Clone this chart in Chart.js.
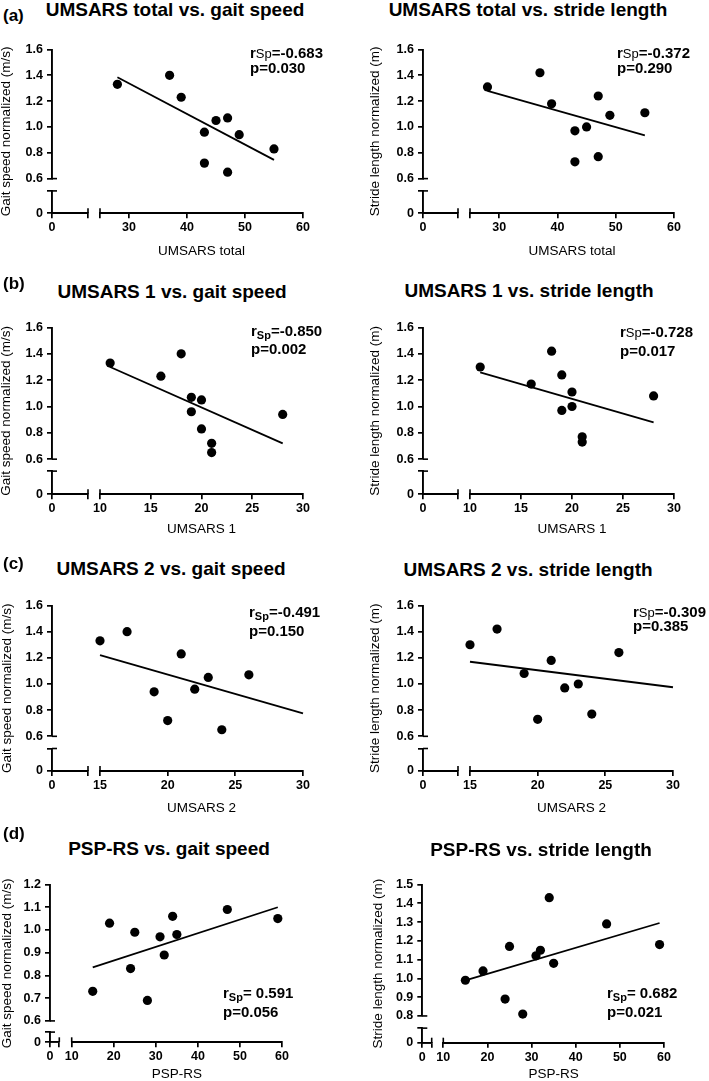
<!DOCTYPE html>
<html>
<head>
<meta charset="utf-8">
<script src="https://cdn.jsdelivr.net/npm/chart.js@4.4.1/dist/chart.umd.min.js"></script>
<style>
html,body{margin:0;padding:0;background:#fff;}
#page{position:relative;width:709px;height:1081px;overflow:hidden;background:#fff;font-family:"Liberation Sans",Arial,Helvetica,sans-serif;color:#000;}
#page canvas{position:absolute;}
.t{position:absolute;white-space:pre;}
.title{font-weight:bold;font-size:19px;line-height:20px;text-align:center;width:400px;}
.lab{font-weight:bold;font-size:17px;line-height:18px;}
.ann{font-weight:bold;font-size:15px;line-height:16px;}
.ann .sp{font-weight:normal;font-size:13px;}
.ann .sb{font-weight:bold;font-size:11px;position:relative;top:3px;}
</style>
</head>
<body>
<div id="page"></div>
<script>
// ---------------- DATA ----------------
// (a) UMSARS total
const umsarsTotal_gait   = [28, 37, 39, 45, 47, 43, 49, 43, 47, 55];
const gaitSpeed_a        = [1.33, 1.40, 1.23, 1.05, 1.07, 0.96, 0.94, 0.72, 0.65, 0.83];
const umsarsTotal_stride = [28, 37, 39, 47, 49, 55, 45, 43, 43, 47];
const strideLength_a     = [1.31, 1.42, 1.18, 1.24, 1.09, 1.11, 1.00, 0.97, 0.73, 0.77];
const fitX_a      = [28, 55];
const fitGait_a   = [1.385, 0.745];
const fitStride_a = [1.28, 0.935];
// (b) UMSARS 1
const umsars1_gait   = [11, 18, 16, 19, 20, 19, 20, 28, 21, 21];
const gaitSpeed_b    = [1.33, 1.40, 1.23, 1.07, 1.05, 0.96, 0.83, 0.94, 0.72, 0.65];
const umsars1_stride = [11, 18, 16, 19, 20, 20, 19, 28, 21, 21];
const strideLength_b = [1.30, 1.42, 1.17, 1.24, 1.11, 1.00, 0.97, 1.08, 0.77, 0.73];
const fitX_b      = [11, 28];
const fitGait_b   = [1.30, 0.72];
const fitStride_b = [1.26, 0.88];
// (c) UMSARS 2
const umsars2_gait   = [15, 17, 21, 26, 23, 22, 19, 20, 24];
const gaitSpeed_c    = [1.33, 1.40, 1.23, 1.07, 1.05, 0.96, 0.94, 0.72, 0.65];
const umsars2_stride = [15, 17, 21, 26, 19, 22, 23, 20, 24];
const strideLength_c = [1.30, 1.42, 1.18, 1.24, 1.08, 0.97, 1.00, 0.73, 0.77];
const fitX_c      = [15, 30];
const fitGait_c   = [1.22, 0.775];
const fitStride_c = [1.17, 0.975];
// (d) PSP-RS
const pspRs_gait     = [15, 19, 25, 24, 28, 31, 32, 34, 35, 47, 59];
const gaitSpeed_d    = [0.73, 1.03, 0.99, 0.83, 0.69, 0.97, 0.89, 1.06, 0.98, 1.09, 1.05];
const pspRs_stride   = [15, 19, 24, 25, 28, 31, 32, 34, 35, 47, 59];
const strideLength_d = [0.99, 1.04, 0.89, 1.17, 0.81, 1.12, 1.15, 1.43, 1.08, 1.29, 1.18];
const fitX_d      = [15, 59];
const fitGait_d   = [0.835, 1.10];
const fitStride_d = [0.99, 1.295];
// statistics
const rStats = ['-0.683', '-0.372', '-0.850', '-0.728', '-0.491', '-0.309', ' 0.591', ' 0.682'];
const pStats = ['0.030', '0.290', '0.002', '0.017', '0.150', '0.385', '0.056', '0.021'];
// ticks
const yTicksUmsars      = [0.6, 0.8, 1.0, 1.2, 1.4, 1.6];
const yTickLabelsUmsars = ['0.6', '0.8', '1.0', '1.2', '1.4', '1.6'];
const yTicksGaitPsp      = [0.6, 0.7, 0.8, 0.9, 1.0, 1.1, 1.2];
const yTickLabelsGaitPsp = ['0.6', '0.7', '0.8', '0.9', '1.0', '1.1', '1.2'];
const yTicksStridePsp      = [0.8, 0.9, 1.0, 1.1, 1.2, 1.3, 1.4, 1.5];
const yTickLabelsStridePsp = ['0.8', '0.9', '1.0', '1.1', '1.2', '1.3', '1.4', '1.5'];
const xTicksTotal      = [25, 30, 40, 50, 60];
const xTickLabelsTotal = ['', '30', '40', '50', '60'];
const xTicksU1      = [10, 15, 20, 25, 30];
const xTickLabelsU1 = ['10', '15', '20', '25', '30'];
const xTicksU2      = [15, 20, 25, 30];
const xTickLabelsU2 = ['15', '20', '25', '30'];
const xTicksPsp      = [10, 20, 30, 40, 50, 60];
const xTickLabelsPsp = ['10', '20', '30', '40', '50', '60'];
const zeroTickLabels = ['0', ''];

// ---------------- LAYOUT ----------------
const FONT = '"Liberation Sans", Arial, Helvetica, sans-serif';
Chart.defaults.font.family = FONT;
Chart.defaults.color = '#000';

const GAIT = 'Gait speed normalized (m/s)';
const STRIDE = 'Stride length normalized (m)';

const rowA = {yTop:48, yB:178.3, yBrk:190.7, y0:213.3, xTitleDy:38};
const rowB = {yTop:326.7, yB:459, yBrk:471, y0:494.3, xTitleDy:35};
const rowC = {yTop:604, yB:736, yBrk:748.3, y0:771, xTitleDy:37};
const colL = {axisX:52, x0End:88, x2Start:100, xEnd:303};
const colR = {axisX:423, x0End:458, x2Start:470, xEnd:674};

const panels = [
  {col:0, title:'UMSARS total vs. gait speed', xTitle:'UMSARS total', yTitle:GAIT,
   xs:umsarsTotal_gait, ys:gaitSpeed_a, fx:fitX_a, fy:fitGait_a,
   xT:xTicksTotal, xL:xTickLabelsTotal, yT:yTicksUmsars, yL:yTickLabelsUmsars, xMin:25, xMax:60, yMin:0.6, yMax:1.6,
   g:Object.assign({}, rowA, colL, {yTitleX:6}), tc:[175, 9.5], ann:{x:250, c1:52.5, c2:68.3, style:'plain'}},
  {col:1, title:'UMSARS total vs. stride length', xTitle:'UMSARS total', yTitle:STRIDE,
   xs:umsarsTotal_stride, ys:strideLength_a, fx:fitX_a, fy:fitStride_a,
   xT:xTicksTotal, xL:xTickLabelsTotal, yT:yTicksUmsars, yL:yTickLabelsUmsars, xMin:25, xMax:60, yMin:0.6, yMax:1.6,
   g:Object.assign({}, rowA, colR, {yTitleX:375}), tc:[528, 10], ann:{x:617, c1:52.5, c2:68.3, style:'plain'}},
  {col:0, title:'UMSARS 1 vs. gait speed', xTitle:'UMSARS 1', yTitle:GAIT,
   xs:umsars1_gait, ys:gaitSpeed_b, fx:fitX_b, fy:fitGait_b,
   xT:xTicksU1, xL:xTickLabelsU1, yT:yTicksUmsars, yL:yTickLabelsUmsars, xMin:10, xMax:30, yMin:0.6, yMax:1.6,
   g:Object.assign({}, rowB, colL, {yTitleX:6}), tc:[172, 291.5], ann:{x:251, c1:330.7, c2:349.3, style:'sub'}},
  {col:1, title:'UMSARS 1 vs. stride length', xTitle:'UMSARS 1', yTitle:STRIDE,
   xs:umsars1_stride, ys:strideLength_b, fx:fitX_b, fy:fitStride_b,
   xT:xTicksU1, xL:xTickLabelsU1, yT:yTicksUmsars, yL:yTickLabelsUmsars, xMin:10, xMax:30, yMin:0.6, yMax:1.6,
   g:Object.assign({}, rowB, colR, {yTitleX:375.5}), tc:[529, 290.7], ann:{x:620, c1:331.7, c2:350.7, style:'plain'}},
  {col:0, title:'UMSARS 2 vs. gait speed', xTitle:'UMSARS 2', yTitle:GAIT,
   xs:umsars2_gait, ys:gaitSpeed_c, fx:fitX_c, fy:fitGait_c,
   xT:xTicksU2, xL:xTickLabelsU2, yT:yTicksUmsars, yL:yTickLabelsUmsars, xMin:15, xMax:30, yMin:0.6, yMax:1.6,
   g:Object.assign({}, rowC, colL, {yTitleX:7}), tc:[171, 568.3], ann:{x:249, c1:611.7, c2:630.7, style:'sub'}},
  {col:1, title:'UMSARS 2 vs. stride length', xTitle:'UMSARS 2', yTitle:STRIDE,
   xs:umsars2_stride, ys:strideLength_c, fx:fitX_c, fy:fitStride_c,
   xT:xTicksU2, xL:xTickLabelsU2, yT:yTicksUmsars, yL:yTickLabelsUmsars, xMin:15, xMax:30, yMin:0.6, yMax:1.6,
   g:Object.assign({}, rowC, colR, {xEnd:673, yTitleX:375.5}), tc:[528, 570], ann:{x:633, c1:612, c2:625.5, style:'plain'}},
  {col:0, title:'PSP-RS vs. gait speed', xTitle:'PSP-RS', yTitle:GAIT,
   xs:pspRs_gait, ys:gaitSpeed_d, fx:fitX_d, fy:fitGait_d,
   xT:xTicksPsp, xL:xTickLabelsPsp, yT:yTicksGaitPsp, yL:yTickLabelsGaitPsp, xMin:10, xMax:60, yMin:0.6, yMax:1.2,
   g:{yTop:883, yB:1020.7, yBrk:1032, y0:1042.3, xTitleDy:32, axisX:50, x0End:59.3, x2Start:71.7, xEnd:282, yTitleX:7},
   tc:[169, 849], ann:{x:223, c1:992.7, c2:1011.7, style:'sub'}},
  {col:1, title:'PSP-RS vs. stride length', xTitle:'PSP-RS', yTitle:STRIDE,
   xs:pspRs_stride, ys:strideLength_d, fx:fitX_d, fy:fitStride_d,
   xT:xTicksPsp, xL:xTickLabelsPsp, yT:yTicksStridePsp, yL:yTickLabelsStridePsp, xMin:10, xMax:60, yMin:0.8, yMax:1.5,
   g:{yTop:883, yB:1015.7, yBrk:1028, y0:1042.7, xTitleDy:32, axisX:422.3, x0End:431.7, x2Start:443.3, xEnd:664, yTitleX:378},
   tc:[541, 850], ann:{x:607, c1:992.7, c2:1011.7, style:'sub'}}
];
const panelLabels = [['(a)', 17], ['(b)', 285], ['(c)', 565.6], ['(d)', 835.5]];

const page = document.getElementById('page');
function addText(cls, html, left, top) {
  const d = document.createElement('div');
  d.className = 't ' + cls;
  d.innerHTML = html;
  d.style.left = left + 'px';
  d.style.top = top + 'px';
  page.appendChild(d);
  return d;
}

const breakMarks = {
  id: 'breakMarks',
  afterDraw(chart) {
    const s = chart.scales, ctx = chart.ctx, L = 5;
    ctx.save();
    ctx.strokeStyle = '#000';
    ctx.lineWidth = 1.6;
    const ax = s.y2.right;
    [s.y2.getPixelForValue(s.y2.min), s.y0.getPixelForValue(s.y0.max)].forEach(py => {
      ctx.beginPath(); ctx.moveTo(ax, py); ctx.lineTo(ax + L, py); ctx.stroke();
    });
    const ay = s.x2.top;
    [s.x0.getPixelForValue(s.x0.max), s.x2.getPixelForValue(s.x2.min)].forEach(px => {
      ctx.beginPath(); ctx.moveTo(px, ay); ctx.lineTo(px, ay - L); ctx.stroke();
    });
    ctx.restore();
  }
};

const tickFont = {size: 12.5, weight: 'bold', family: FONT};
const gridOpt = () => ({display: true, drawOnChartArea: false, drawTicks: true, tickLength: 5, color: '#000', lineWidth: 1.7});
const borderOpt = () => ({display: true, color: '#000', width: 1.9});
const setTicks = vals => (sc => { sc.ticks = vals.map(v => ({value: v})); });

function buildPanel(P) {
  const g = P.g;
  const colLeft = P.col === 0 ? -4 : 351;
  const W = 358;
  const yTitleFont = 13.5, titleW = 14;
  const xTitleFont = 13.5;
  const xAxisH = g.xTitleDy + xTitleFont * 1.2 / 2;
  const chartH = g.y0 - g.yTop;
  const cTop = Math.floor(g.yTop - 10);
  const padTop = g.yTop - cTop;
  const H = Math.ceil(padTop + chartH + xAxisH + 1);
  const padBottom = H - (padTop + chartH + xAxisH);
  const padLeft = g.yTitleX - colLeft - yTitleFont / 2;
  const yStackW = g.axisX - colLeft - padLeft - titleW;
  const padRight = colLeft + W - g.xEnd;

  const cv = document.createElement('canvas');
  cv.width = W; cv.height = H;
  cv.style.left = colLeft + 'px'; cv.style.top = cTop + 'px';
  cv.style.width = W + 'px'; cv.style.height = H + 'px';
  page.appendChild(cv);

  const fixW = sc => { sc.width = yStackW; };
  const fixH = sc => { sc.height = xAxisH; };

  new Chart(cv, {
    type: 'scatter',
    data: {
      datasets: [
        {data: P.xs.map((x, i) => ({x: x, y: P.ys[i]})), xAxisID: 'x2', yAxisID: 'y2', clip: false,
         pointRadius: 4.6, pointHoverRadius: 4.6, backgroundColor: '#000', borderColor: '#000', borderWidth: 0, order: 1},
        {data: P.fx.map((x, i) => ({x: x, y: P.fy[i]})), xAxisID: 'x2', yAxisID: 'y2', showLine: true, clip: false,
         pointRadius: 0, borderColor: '#000', borderWidth: 1.8, fill: false, order: 2}
      ]
    },
    options: {
      responsive: false, animation: false, devicePixelRatio: 1,
      layout: {padding: {left: padLeft, right: padRight, top: padTop, bottom: padBottom}},
      plugins: {legend: {display: false}, tooltip: {enabled: false}},
      events: [],
      scales: {
        yt: {type: 'linear', axis: 'y', position: 'left', weight: 10, min: 0, max: 1,
             grid: {display: false}, border: {display: false}, ticks: {display: false},
             title: {display: true, text: P.yTitle, font: {size: yTitleFont, family: FONT, weight: 'normal', lineHeight: 1}, padding: 0},
             afterFit: sc => { sc.width = titleW; }},
        y2: {type: 'linear', axis: 'y', position: 'left', stack: 'ys', stackWeight: g.yB - g.yTop, weight: 3,
             min: P.yMin, max: P.yMax, grid: gridOpt(), border: borderOpt(),
             ticks: {font: tickFont, padding: 4, autoSkip: false, callback: (v, i) => P.yL[i]},
             afterBuildTicks: setTicks(P.yT), afterFit: fixW},
        yg: {type: 'linear', axis: 'y', position: 'left', stack: 'ys', stackWeight: g.yBrk - g.yB, weight: 2,
             min: 0, max: 1, grid: {display: false}, border: {display: false}, ticks: {display: false}, afterFit: fixW},
        y0: {type: 'linear', axis: 'y', position: 'left', stack: 'ys', stackWeight: g.y0 - g.yBrk, weight: 1,
             min: 0, max: 1, grid: gridOpt(), border: borderOpt(),
             ticks: {font: tickFont, padding: 4, autoSkip: false, callback: (v, i) => zeroTickLabels[i]},
             afterBuildTicks: setTicks([0, 1]), afterFit: fixW},
        x0: {type: 'linear', axis: 'x', position: 'bottom', stack: 'xs', stackWeight: g.x0End - g.axisX, weight: 1,
             min: 0, max: 1, grid: gridOpt(), border: borderOpt(),
             ticks: {font: tickFont, padding: 2, autoSkip: false, maxRotation: 0, minRotation: 0, callback: (v, i) => zeroTickLabels[i]},
             afterBuildTicks: setTicks([0, 1]), afterFit: fixH},
        xg: {type: 'linear', axis: 'x', position: 'bottom', stack: 'xs', stackWeight: g.x2Start - g.x0End, weight: 2,
             min: 0, max: 1, grid: {display: false}, border: {display: false}, ticks: {display: false}, afterFit: fixH},
        x2: {type: 'linear', axis: 'x', position: 'bottom', stack: 'xs', stackWeight: g.xEnd - g.x2Start, weight: 3,
             min: P.xMin, max: P.xMax, grid: gridOpt(), border: borderOpt(),
             ticks: {font: tickFont, padding: 2, autoSkip: false, maxRotation: 0, minRotation: 0, callback: (v, i) => P.xL[i]},
             title: {display: true, text: P.xTitle, font: {size: xTitleFont, family: FONT, weight: 'normal'}, padding: {top: 0, bottom: 0}},
             afterBuildTicks: setTicks(P.xT), afterFit: fixH}
      }
    },
    plugins: [breakMarks]
  });

  addText('title', P.title, P.tc[0] - 200, P.tc[1] - 9.8);
}

panels.forEach((P, i) => {
  buildPanel(P);
  const a = P.ann;
  const rHead = a.style === 'sub' ? 'r<span class="sb">Sp</span>' : 'r<span class="sp">Sp</span>';
  addText('ann', rHead + '=' + rStats[i], a.x, a.c1 - 7.85);
  addText('ann', 'p=' + pStats[i], a.x, a.c2 - 7.85);
});
panelLabels.forEach(l => addText('lab', l[0], 3, l[1] - 10.3));
</script>
</body>
</html>
